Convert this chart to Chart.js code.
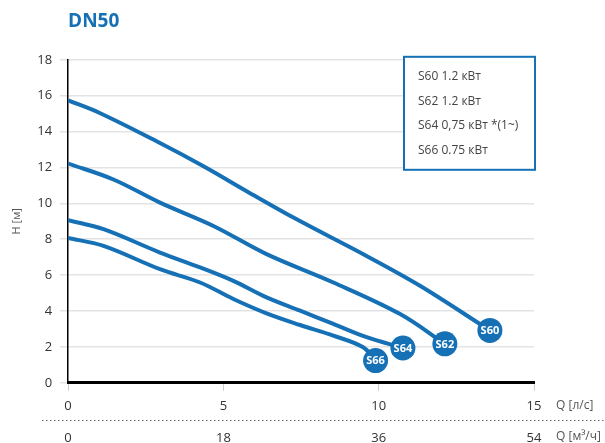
<!DOCTYPE html>
<html>
<head>
<meta charset="utf-8">
<script src="https://cdn.jsdelivr.net/npm/chart.js@4"></script>
<style>
  html, body { margin: 0; padding: 0; background: #fff; }
  #wrap { width: 605px; height: 443px; }
</style>
</head>
<body>
<div id="wrap"><canvas id="pumpChart"></canvas></div>
<script>
var pumpNames = ["S60", "S62", "S64", "S66"];
var legendTexts = ["S60 1.2 кВт", "S62 1.2 кВт", "S64 0,75 кВт *(1~)", "S66 0.75 кВт"];

var s60Q = [0, 1.0, 2.85, 4.36, 5.75, 7.36, 9.61, 11.33, 13.58];
var s60H = [15.74, 15.05, 13.46, 12.07, 10.68, 9.11, 7.07, 5.41, 2.92];
var s62Q = [0, 1.46, 2.96, 4.68, 6.39, 8.54, 10.69, 12.13];
var s62H = [12.22, 11.33, 10.04, 8.74, 7.17, 5.59, 3.83, 2.17];
var s64Q = [0, 1.14, 2.96, 4.25, 5.32, 6.39, 7.47, 8.54, 9.61, 10.78];
var s64H = [9.06, 8.56, 7.26, 6.43, 5.68, 4.76, 4.02, 3.28, 2.54, 1.94];
var s66Q = [0, 1.14, 2.96, 4.25, 5.32, 6.39, 7.47, 8.54, 9.5, 9.9];
var s66H = [8.07, 7.63, 6.33, 5.59, 4.67, 3.87, 3.22, 2.63, 1.98, 1.24];

var qTicksLs = [0, 5, 10, 15];
var qTicksM3 = [0, 18, 36, 54];

var blue = "#1670b6";
var fontFamily = "'Open Sans', 'Noto Sans', sans-serif";

function toPoints(qs, hs) {
  return qs.map(function (q, i) { return { x: q, y: hs[i] }; });
}

var allQ = [s60Q, s62Q, s64Q, s66Q];
var allH = [s60H, s62H, s64H, s66H];

var datasets = pumpNames.map(function (name, i) {
  var n = allQ[i].length;
  return {
    label: legendTexts[i],
    tag: name,
    data: toPoints(allQ[i], allH[i]),
    borderColor: blue,
    backgroundColor: blue,
    borderWidth: 4,
    tension: 0.35,
    pointRadius: function (ctx) { return ctx.dataIndex === n - 1 ? 12.5 : 0; },
    pointHoverRadius: function (ctx) { return ctx.dataIndex === n - 1 ? 12.5 : 0; },
    pointBackgroundColor: blue,
    pointBorderWidth: 0
  };
});

var extras = {
  id: "extras",
  afterDatasetsDraw: function (chart) {
    var c = chart.ctx;
    c.save();
    // curve tags in the circles
    c.font = "bold 11px " + fontFamily;
    c.fillStyle = "#fff";
    c.textAlign = "center";
    c.textBaseline = "middle";
    chart.data.datasets.forEach(function (ds, i) {
      var meta = chart.getDatasetMeta(i);
      var pt = meta.data[meta.data.length - 1];
      c.fillText(ds.tag, pt.x, pt.y + 0.5);
    });
    // legend box
    var a = chart.chartArea;
    var bw = 131, bh = 113;
    var bx = a.right - bw + 1, by = a.top - 3;
    c.fillStyle = "#fff";
    c.fillRect(bx, by, bw, bh);
    c.strokeStyle = blue;
    c.lineWidth = 2;
    c.strokeRect(bx, by, bw, bh);
    c.font = "12px " + fontFamily;
    c.fillStyle = "#444";
    c.textAlign = "left";
    var offs = [20, 45, 69, 94];
    chart.data.datasets.forEach(function (ds, i) {
      c.fillText(ds.label, bx + 14, by + offs[i]);
    });
    c.restore();
  },
  afterDraw: function (chart) {
    var c = chart.ctx;
    var xs = chart.scales.x;
    var a = chart.chartArea;
    c.save();
    // dotted separator between the two Q scales
    var yd = Math.round(a.bottom + 37) + 0.5;
    c.strokeStyle = "#666";
    c.lineWidth = 1;
    c.setLineDash([1.5, 2.5]);
    c.beginPath();
    c.moveTo(42, yd);
    c.lineTo(chart.width, yd);
    c.stroke();
    c.setLineDash([]);
    // unit labels
    c.font = "12px " + fontFamily;
    c.fillStyle = "#555";
    c.textAlign = "left";
    c.textBaseline = "middle";
    var ux = xs.getPixelForValue(15) + 22;
    c.fillText("Q [л/с]", ux, a.bottom + 23);
    c.fillText("Q [м³/ч]", ux, a.bottom + 54);
    c.restore();
  }
};

new Chart("pumpChart", {
  type: "line",
  data: { datasets: datasets },
  plugins: [extras],
  options: {
    responsive: true,
    maintainAspectRatio: false,
    animation: false,
    layout: { padding: { left: 6, right: 71, top: 0, bottom: -3 } },
    plugins: {
      legend: { display: false },
      tooltip: { enabled: false },
      title: {
        display: true,
        text: "DN50",
        align: "start",
        fullSize: false,
        color: blue,
        font: { family: fontFamily, size: 19, weight: "bold" },
        padding: { top: 10, bottom: 27 }
      }
    },
    scales: {
      x: {
        type: "linear",
        position: "bottom",
        min: 0,
        max: 15,
        afterBuildTicks: function (s) { s.ticks = qTicksLs.map(function (v) { return { value: v }; }); },
        grid: { drawOnChartArea: false, drawTicks: true, tickLength: 8, tickColor: "#ccc" },
        border: { color: "#000", width: 3 },
        ticks: { color: "#333", font: { family: fontFamily, size: 13 }, padding: 8 }
      },
      x2: {
        type: "linear",
        position: "bottom",
        min: 0,
        max: 54,
        afterBuildTicks: function (s) { s.ticks = qTicksM3.map(function (v) { return { value: v }; }); },
        grid: { display: false },
        border: { display: false },
        ticks: { color: "#333", font: { family: fontFamily, size: 13 }, padding: 0 }
      },
      y: {
        min: 0,
        max: 18,
        ticks: { stepSize: 2, color: "#333", font: { family: fontFamily, size: 13 }, padding: 8 },
        grid: { color: "#e3e3e3", tickLength: 8, lineWidth: 1.5 },
        border: { color: "#000", width: 1.5 },
        title: {
          display: true,
          text: "H [м]",
          color: "#555",
          font: { family: fontFamily, size: 11 },
          padding: { bottom: 6 }
        }
      }
    }
  }
});
</script>
</body>
</html>
